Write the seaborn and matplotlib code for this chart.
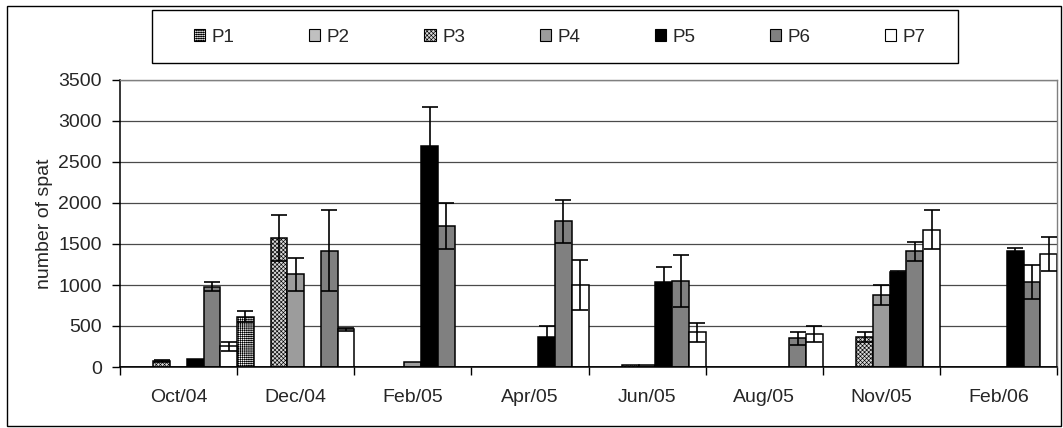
import numpy as np
import pandas as pd
import matplotlib
matplotlib.use("Agg")
import matplotlib.pyplot as plt
from matplotlib.patches import Rectangle, Patch
import seaborn as sns

# ---- data ----
months = ['Oct/04', 'Dec/04', 'Feb/05', 'Apr/05', 'Jun/05', 'Aug/05', 'Nov/05', 'Feb/06']
series = ['P1', 'P2', 'P3', 'P4', 'P5', 'P6', 'P7']

P1 = [0, 615, 0, 0, 0, 0, 0, 0]
P2 = [0, 0, 0, 0, 0, 0, 0, 0]
P3 = [70, 1575, 0, 0, 20, 0, 365, 0]
P4 = [0, 1130, 60, 0, 25, 0, 880, 0]
P5 = [95, 0, 2690, 365, 1035, 0, 1160, 1410]
P6 = [980, 1420, 1720, 1775, 1050, 350, 1410, 1035]
P7 = [255, 460, 0, 1000, 425, 405, 1675, 1375]

E1 = [0, 70, 0, 0, 0, 0, 0, 0]
E2 = [0, 0, 0, 0, 0, 0, 0, 0]
E3 = [10, 280, 0, 0, 0, 0, 60, 0]
E4 = [0, 200, 0, 0, 0, 0, 120, 0]
E5 = [0, 0, 480, 135, 190, 0, 15, 40]
E6 = [55, 490, 285, 260, 320, 80, 112, 205]
E7 = [55, 15, 0, 300, 115, 95, 240, 210]

yticks = [0, 500, 1000, 1500, 2000, 2500, 3000, 3500]
ylabel = 'number of spat'

values = [P1, P2, P3, P4, P5, P6, P7]
errors = [E1, E2, E3, E4, E5, E6, E7]

# ---- styles ----
faces = ['white', '#c0c0c0', '#d8d8d8', '#9c9c9c', 'black', '#808080', 'white']
hatches = ['++++++++', None, 'xxxxxxxx', None, None, None, None]

rows = []
for s, vals in zip(series, values):
    for m, v in zip(months, vals):
        rows.append({'month': m, 'series': s, 'value': v})
df = pd.DataFrame(rows)

sns.set_theme(style='white')
plt.rcParams['font.family'] = ['Liberation Sans', 'DejaVu Sans']
plt.rcParams['hatch.linewidth'] = 0.45

W, H = 1063, 428
fig = plt.figure(figsize=(W / 100, H / 100), dpi=100)
L, R, T, B = 120, 1057, 80, 367
ax = fig.add_axes([L / W, 1 - B / H, (R - L) / W, (B - T) / H])

sns.barplot(data=df, x='month', y='value', hue='series', order=months,
            hue_order=series, palette=dict(zip(series, faces)),
            width=1.0, gap=0, errorbar=None, edgecolor='black', linewidth=1.1,
            saturation=1, legend=False, ax=ax)

for cont, h, fc, errs in zip(ax.containers, hatches, faces, errors):
    xs = []
    ys = []
    es = []
    for patch, e in zip(cont.patches, errs):
        patch.set_facecolor(fc)
        patch.set_edgecolor('black')
        if h:
            patch.set_hatch(h)
        if e > 0:
            xs.append(patch.get_x() + patch.get_width() / 2)
            ys.append(patch.get_height())
            es.append(e)
    if xs:
        ax.errorbar(xs, ys, yerr=es, fmt='none', ecolor='black',
                    elinewidth=1.2, capsize=5.5, capthick=1.2, zorder=5)

ax.set_xlim(-0.5, len(months) - 0.5)
ax.set_ylim(0, 3500)
ax.set_yticks(yticks)
ax.set_yticklabels([str(v) for v in yticks])
ax.set_xlabel('')
ax.set_ylabel(ylabel, fontsize=14, labelpad=4)

ax.yaxis.grid(True, color='#4a4a4a', linewidth=0.9)
ax.set_axisbelow(True)

ax.set_xticks(np.arange(len(months)))
ax.set_xticklabels(months)
ax.set_xticks(np.arange(-0.5, len(months)), minor=True)
ax.tick_params(axis='x', which='major', length=0, labelsize=14, pad=16)
ax.tick_params(axis='x', which='minor', length=6, width=1, color='black', direction='out', bottom=True)
ax.tick_params(axis='y', length=6, width=1, color='black', direction='out', left=True, labelsize=14, pad=7)

for side in ['left', 'bottom']:
    ax.spines[side].set_color('black')
    ax.spines[side].set_linewidth(1.1)
for side in ['top', 'right']:
    ax.spines[side].set_visible(True)
    ax.spines[side].set_color('#808080')
    ax.spines[side].set_linewidth(1.0)

# legend box
fig.patches.append(Rectangle((152 / W, 1 - 63 / H), (958 - 152) / W, 53 / H,
                             transform=fig.transFigure, fill=False,
                             edgecolor='black', linewidth=1.0))
handles = [Patch(facecolor=fc, edgecolor='black', hatch=h, linewidth=0.8)
           for fc, h in zip(faces, hatches)]
fig.legend(handles, series, loc='center', bbox_to_anchor=(560 / W, 1 - 37 / H),
           ncol=7, frameon=False, fontsize=13.5, handlelength=0.6,
           handleheight=0.6, handletextpad=0.35, columnspacing=3.97)

# chart border
fig.patches.append(Rectangle((7 / W, 2 / H), (1061 - 7) / W, (424 - 4) / H,
                             transform=fig.transFigure, fill=False,
                             edgecolor='black', linewidth=1.0))

fig.savefig('out.png', dpi=100)
